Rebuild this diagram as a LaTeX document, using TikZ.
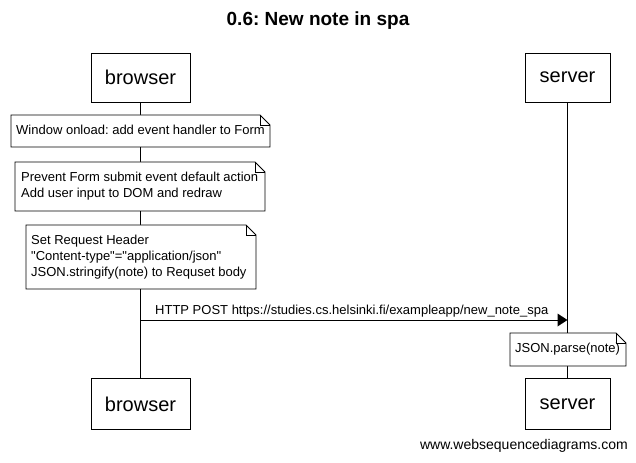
\documentclass[tikz,border=0pt]{standalone}
\usepackage{fontspec}
\setmainfont{Liberation Sans}[Ligatures=TeXOff]
\frenchspacing
\begin{document}
\begin{tikzpicture}[x=1bp,y=-1bp,
  actor/.style={draw=black,line width=0.8bp,fill=white,minimum width=99bp,minimum height=49bp,
    inner sep=0pt,font=\fontsize{20bp}{24bp}\selectfont},
  notetext/.style={inner sep=0pt,align=left,anchor=north west,
    font=\fontsize{13bp}{16bp}\selectfont},
  lifeline/.style={line width=0.8bp},
  msg/.style={line width=0.8bp},
  notebox/.style={draw=black,line width=0.8bp,fill=white}
]
\useasboundingbox[fill=white] (0,0) rectangle (636,463);

% title
\node[font=\bfseries\fontsize{19bp}{22bp}\selectfont] (title) at (318,21) {0.6: New note in spa};

% participants, top and bottom
\node[actor] (bTop) at (140.5,77.5) {browser};
\node[actor,minimum width=85bp] (sTop) at (567.5,77.5) {server};
\node[actor,minimum height=51bp] (bBot) at (140.5,404) {browser};
\node[actor,minimum width=85bp,minimum height=51bp] (sBot) at (567.5,404) {server};

% lifelines
\draw[lifeline] (bTop.south) -- (bBot.north);
\draw[lifeline] (sTop.south) -- (sBot.north);

% note with folded corner: #1 name, #2 left, #3 top, #4 right, #5 bottom
\newcommand{\foldnote}[5]{%
  \coordinate (#1-nw) at (#2,#3);
  \coordinate (#1-se) at (#4,#5);
  \filldraw[notebox] (#1-nw) -- (#4-10,#3) -- (#4,#3+10) -- (#1-se) -- (#2,#5) -- cycle;
  \draw[line width=0.8bp] (#4-10,#3) -- (#4-10,#3+10) -- (#4,#3+10);
}

\foldnote{n1}{11}{115}{270}{147}
\node[notetext] (t1) at (16,125) {Window onload: add event handler to Form};

\foldnote{n2}{15}{162}{265}{211}
\node[notetext] (t2) at (21,172) {Prevent Form submit event default action\\Add user input to DOM and redraw};

\foldnote{n3}{26}{225}{256}{289}
\node[notetext] (t3) at (31,235) {Set Request Header\\"Content-type"="application/json"\\JSON.stringify(note) to Requset body};

% message
\coordinate (m1s) at (140.5,320);
\coordinate (m1e) at (567.5,320);
\draw[msg] (m1s) -- ([xshift=-8bp]m1e);
\fill (m1e) -- ++(-10,-6.5) -- ++(0,13) -- cycle;
\node[anchor=south west,inner sep=0pt,font=\fontsize{13bp}{15bp}\selectfont] (l1) at (155,317)
  {HTTP POST https://studies.cs.helsinki.fi/exampleapp/new\_note\_spa};

\foldnote{n4}{510}{333}{626}{366}
\node[notetext] (t4) at (515,343) {JSON.parse(note)};

% footer
\node[anchor=east,inner sep=0pt,font=\fontsize{14bp}{16bp}\selectfont] (footer) at (628,446) {www.websequencediagrams.com};
\end{tikzpicture}
\end{document}
